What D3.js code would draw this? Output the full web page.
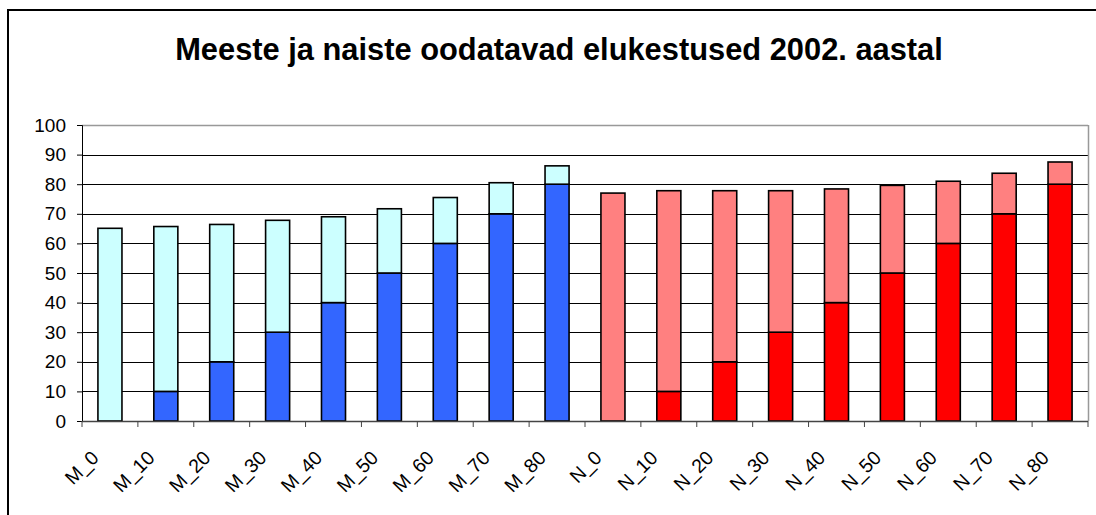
<!DOCTYPE html>
<html><head><meta charset="utf-8">
<script src="https://cdn.jsdelivr.net/npm/d3@7"></script>
<style>body{margin:0;background:#fff;}svg{display:block;font-family:"Liberation Sans",Arial,sans-serif;}</style>
</head><body>
<svg id="c" width="1096" height="515"></svg>
<script>
const categories = ["M_0","M_10","M_20","M_30","M_40","M_50","M_60","M_70","M_80",
                    "N_0","N_10","N_20","N_30","N_40","N_50","N_60","N_70","N_80"];
const ageValues = [0,10,20,30,40,50,60,70,80, 0,10,20,30,40,50,60,70,80];
const remainingValues = [65.1,55.7,46.4,37.8,29.0,21.7,15.5,10.5,6.2,
                         77.0,67.8,57.8,47.8,38.4,29.6,21.0,13.7,7.5];
const yTicks = [0,10,20,30,40,50,60,70,80,90,100];
const titleText = "Meeste ja naiste oodatavad elukestused 2002. aastal";

const svg = d3.select("#c");
const L = 82, R = 1088, T = 125, B = 421;

svg.append("rect").attr("x",8).attr("y",10).attr("width",1200).attr("height",600)
  .attr("fill","#fff").attr("stroke","#000").attr("stroke-width",2);

const title = svg.append("text").attr("x",559).attr("y",60).attr("text-anchor","middle")
  .attr("font-weight","bold").attr("font-size",26).text(titleText);
const tw = title.node().getComputedTextLength();
title.attr("font-size", 26*768/tw);

const x = d3.scaleBand().domain(categories).range([L,R]).padding(0);
const y = d3.scaleLinear().domain([0,100]).range([B,T]);

svg.append("g").selectAll("line").data(yTicks.filter(d=>d>0 && d<100)).join("line")
  .attr("x1",L).attr("x2",R).attr("y1",d=>Math.round(y(d))+0.5).attr("y2",d=>Math.round(y(d))+0.5)
  .attr("stroke","#000").attr("stroke-width",1);

svg.append("line").attr("x1",L).attr("x2",R).attr("y1",y(100)+0.5).attr("y2",y(100)+0.5).attr("stroke","#999").attr("stroke-width",1.5);
svg.append("line").attr("x1",R+0.5).attr("x2",R+0.5).attr("y1",T).attr("y2",B).attr("stroke","#999").attr("stroke-width",1.5);

const bw = x.bandwidth()*0.43;
const darkCol = c => c.startsWith("M") ? "#3366FF" : "#FF0000";
const lightCol = c => c.startsWith("M") ? "#CCFFFF" : "#FF8080";
const g = svg.append("g");
categories.forEach((c,i)=>{
  const cx = x(c)+x.bandwidth()/2;
  const a = ageValues[i], r = remainingValues[i];
  if (a>0) g.append("rect").attr("x",cx-bw/2).attr("width",bw)
    .attr("y",y(a)).attr("height",y(0)-y(a))
    .attr("fill",darkCol(c)).attr("stroke","#000").attr("stroke-width",1.6);
  g.append("rect").attr("x",cx-bw/2).attr("width",bw)
    .attr("y",y(a+r)).attr("height",y(a)-y(a+r))
    .attr("fill",lightCol(c)).attr("stroke","#000").attr("stroke-width",1.6);
});

const yAxis = svg.append("g").attr("transform",`translate(${L},0)`)
  .call(d3.axisLeft(y).tickValues(yTicks).tickSize(5).tickPadding(11));
yAxis.select(".domain").attr("stroke","#000");
yAxis.selectAll(".tick line").attr("stroke","#000");
yAxis.selectAll("text").attr("font-size",19).attr("fill","#000")
  .attr("font-family","Liberation Sans, Arial, sans-serif");

const xAxis = svg.append("g").attr("transform",`translate(0,${B})`);
xAxis.append("line").attr("x1",L).attr("x2",R).attr("y1",0.5).attr("y2",0.5).attr("stroke","#444").attr("stroke-width",1.5);
const bounds = categories.map(c=>x(c)).concat([R]);
xAxis.selectAll("line.tk").data(bounds).join("line").attr("class","tk")
  .attr("x1",d=>d).attr("x2",d=>d).attr("y1",0).attr("y2",6).attr("stroke","#444");
xAxis.selectAll("text").data(categories).join("text")
  .attr("transform",d=>`translate(${x(d)+x.bandwidth()/2-10},${38}) rotate(-45)`)
  .attr("text-anchor","end").attr("font-size",19.5).attr("fill","#000").text(d=>d);
</script>
</body></html>
